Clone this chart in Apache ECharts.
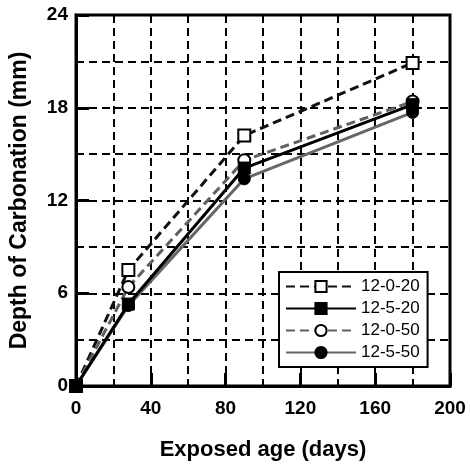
<!DOCTYPE html>
<html>
<head>
<meta charset="utf-8">
<script src="https://cdn.jsdelivr.net/npm/echarts@6/dist/echarts.min.js"></script>
<style>
  html, body { margin: 0; padding: 0; background: #fff; }
  #container { width: 470px; height: 466px; }
</style>
</head>
<body>
<div id="container"></div>
<script>
// exposed age in days
var days = [0, 28, 90, 180];

// depth of carbonation (mm) per mix
var mix_12_0_20 = [0, 7.5, 16.2, 20.9];
var mix_12_5_20 = [0, 5.3, 14.1, 18.2];
var mix_12_0_50 = [0, 6.4, 14.6, 18.4];
var mix_12_5_50 = [0, 5.2, 13.4, 17.7];

var seriesNames = ['12-0-20', '12-5-20', '12-0-50', '12-5-50'];

var FONT = '"Liberation Sans", Arial, sans-serif';

function pairs(vals) {
    var out = [];
    for (var i = 0; i < days.length; i++) {
        out.push([days[i], vals[i]]);
    }
    return out;
}

var dashed = { type: [8, 5], color: '#000', width: 2 };

var chart = echarts.init(document.getElementById('container'), null, { renderer: 'canvas' });

var option = {
    animation: false,
    backgroundColor: '#fff',
    grid: {
        left: 75, right: 20, top: 15, bottom: 79,
        show: true, borderColor: '#000', borderWidth: 3
    },
    legend: {
        orient: 'vertical',
        left: 279, top: 272,
        width: 148,
        backgroundColor: '#fff',
        borderColor: '#000',
        borderWidth: 2,
        borderRadius: 0,
        padding: [6, 8, 6, 6],
        itemWidth: 70,
        itemHeight: 14,
        itemGap: 5,
        data: seriesNames,
        textStyle: { fontFamily: FONT, fontSize: 17, color: '#000' }
    },
    xAxis: {
        type: 'value',
        min: 0, max: 200, interval: 40,
        name: 'Exposed age (days)',
        nameLocation: 'middle',
        nameGap: 53,
        nameTextStyle: { fontFamily: FONT, fontSize: 22, fontWeight: 'bold', color: '#000' },
        axisLine: { onZero: false, lineStyle: { color: '#000', width: 3 } },
        axisTick: { inside: true, length: 13, lineStyle: { color: '#000', width: 3 } },
        minorTick: { show: true, splitNumber: 2, length: 7, lineStyle: { color: '#000', width: 2 } },
        axisLabel: { margin: 13, fontFamily: FONT, fontSize: 19, fontWeight: 'bold', color: '#000' },
        splitLine: { show: true, lineStyle: dashed },
        minorSplitLine: { show: true, lineStyle: dashed }
    },
    yAxis: {
        type: 'value',
        min: 0, max: 24, interval: 6,
        name: 'Depth of Carbonation (mm)',
        nameLocation: 'middle',
        nameGap: 45,
        nameTextStyle: { fontFamily: FONT, fontSize: 23, fontWeight: 'bold', color: '#000' },
        axisLine: { onZero: false, lineStyle: { color: '#000', width: 3 } },
        axisTick: { inside: true, length: 13, lineStyle: { color: '#000', width: 3 } },
        minorTick: { show: true, splitNumber: 2, length: 7, lineStyle: { color: '#000', width: 2 } },
        axisLabel: { margin: 8, fontFamily: FONT, fontSize: 19, fontWeight: 'bold', color: '#000' },
        splitLine: { show: true, lineStyle: dashed },
        minorSplitLine: { show: true, lineStyle: dashed }
    },
    series: [
        {
            name: '12-0-20', type: 'line', data: pairs(mix_12_0_20),
            symbol: 'rect', symbolSize: 12, z: 3,
            lineStyle: { color: '#111', width: 3, type: [9, 5] },
            itemStyle: { color: '#fff', borderColor: '#000', borderWidth: 2 }
        },
        {
            name: '12-0-50', type: 'line', data: pairs(mix_12_0_50),
            symbol: 'circle', symbolSize: 12, z: 4,
            lineStyle: { color: '#606060', width: 3, type: [9, 5] },
            itemStyle: { color: '#fff', borderColor: '#000', borderWidth: 2 }
        },
        {
            name: '12-5-50', type: 'line', data: pairs(mix_12_5_50),
            symbol: 'circle', symbolSize: 12, z: 5,
            lineStyle: { color: '#666', width: 3 },
            itemStyle: { color: '#000', borderColor: '#000', borderWidth: 1 }
        },
        {
            name: '12-5-20', type: 'line', data: pairs(mix_12_5_20),
            symbol: 'rect', symbolSize: 12, z: 6,
            lineStyle: { color: '#000', width: 3 },
            itemStyle: { color: '#000', borderColor: '#000', borderWidth: 1 }
        }
    ]
};

chart.setOption(option);
</script>
</body>
</html>
